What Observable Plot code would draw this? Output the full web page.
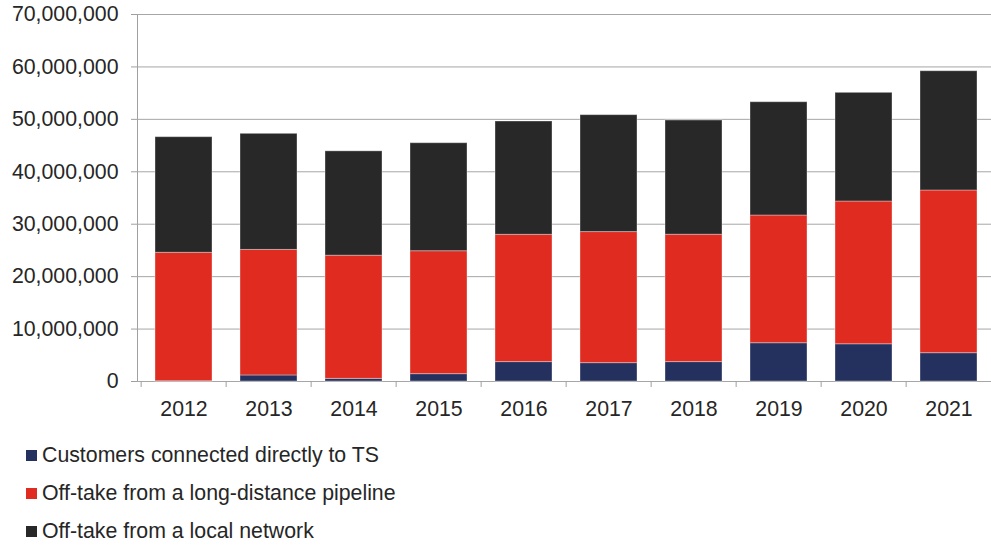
<!DOCTYPE html>
<html>
<head>
<meta charset="utf-8">
<script src="https://cdn.jsdelivr.net/npm/d3@7"></script>
<script src="https://cdn.jsdelivr.net/npm/@observablehq/plot@0.6"></script>
<style>
  html, body { margin: 0; padding: 0; background: #fff; }
  body { width: 991px; height: 551px; overflow: hidden; font-family: "Liberation Sans", Arial, sans-serif; }
  #chart svg text { fill: #262626; }
  #legend { margin-top: 11px; padding-left: 26px; }
  .row { display: flex; align-items: center; height: 38px; font-size: 21.3px; color: #262626; }
  .sw { width: 11px; height: 11px; margin-right: 5px; flex: none; }
</style>
</head>
<body>
<div id="chart"></div>
<div id="legend"></div>
<script>
const years = ["2012", "2013", "2014", "2015", "2016", "2017", "2018", "2019", "2020", "2021"];
const seriesNames = [
  "Customers connected directly to TS",
  "Off-take from a long-distance pipeline",
  "Off-take from a local network"
];
const seriesColors = ["#24305e", "#e02b20", "#282828"];
// values in millions
const directTS     = [0.05, 1.15, 0.5, 1.4, 3.7, 3.5, 3.7, 7.3, 7.1, 5.4];
const longDistance = [24.5, 23.95, 23.5, 23.45, 24.28, 25.0, 24.3, 24.36, 27.23, 31.03];
const localNetwork = [22.05, 22.14, 19.9, 20.6, 21.61, 22.3, 21.78, 21.61, 20.73, 22.75];
const yTicks = [0, 10e6, 20e6, 30e6, 40e6, 50e6, 60e6, 70e6];

const seriesValues = [directTS, longDistance, localNetwork];
const table = [];
years.forEach((yr, i) => {
  seriesNames.forEach((s, k) => {
    table.push({year: yr, series: s, value: seriesValues[k][i] * 1e6});
  });
});

const xRange = [137.3, 994.3];
const step = (xRange[1] - xRange[0]) / years.length;

const plot = Plot.plot({
  width: 991,
  height: 425,
  marginLeft: 137,
  marginRight: 0,
  marginTop: 14,
  marginBottom: 44,
  style: {fontFamily: "'Liberation Sans', Arial, sans-serif", fontSize: "21.3px", color: "#a0a0a0", background: "#fff", overflow: "visible"},
  x: {domain: years, range: xRange, paddingInner: 0.335, paddingOuter: 0.1675, tickSize: 0, tickPadding: 19, label: null},
  y: {domain: [0, 70e6], ticks: yTicks, tickFormat: d3.format(","), tickSize: 6, tickPadding: 13, label: null, line: true},
  color: {domain: seriesNames, range: seriesColors},
  marks: [
    Plot.ruleY(yTicks, {stroke: "#a6a6a6", strokeWidth: 1}),
    Plot.barY(table, {x: "year", y: "value", fill: "series", stroke: "#ffffff", strokeOpacity: 0.35, strokeWidth: 1}),
    Plot.ruleX(years, {x: d => d, dx: -step / 2, y1: 0, y2: 0, insetBottom: -6, stroke: "#a0a0a0"})
  ]
});
document.getElementById("chart").appendChild(plot);

const legend = document.getElementById("legend");
seriesNames.forEach((s, k) => {
  const row = document.createElement("div");
  row.className = "row";
  const sw = document.createElement("span");
  sw.className = "sw";
  sw.style.background = seriesColors[k];
  const t = document.createElement("span");
  t.textContent = s;
  row.appendChild(sw);
  row.appendChild(t);
  legend.appendChild(row);
});
</script>
</body>
</html>
